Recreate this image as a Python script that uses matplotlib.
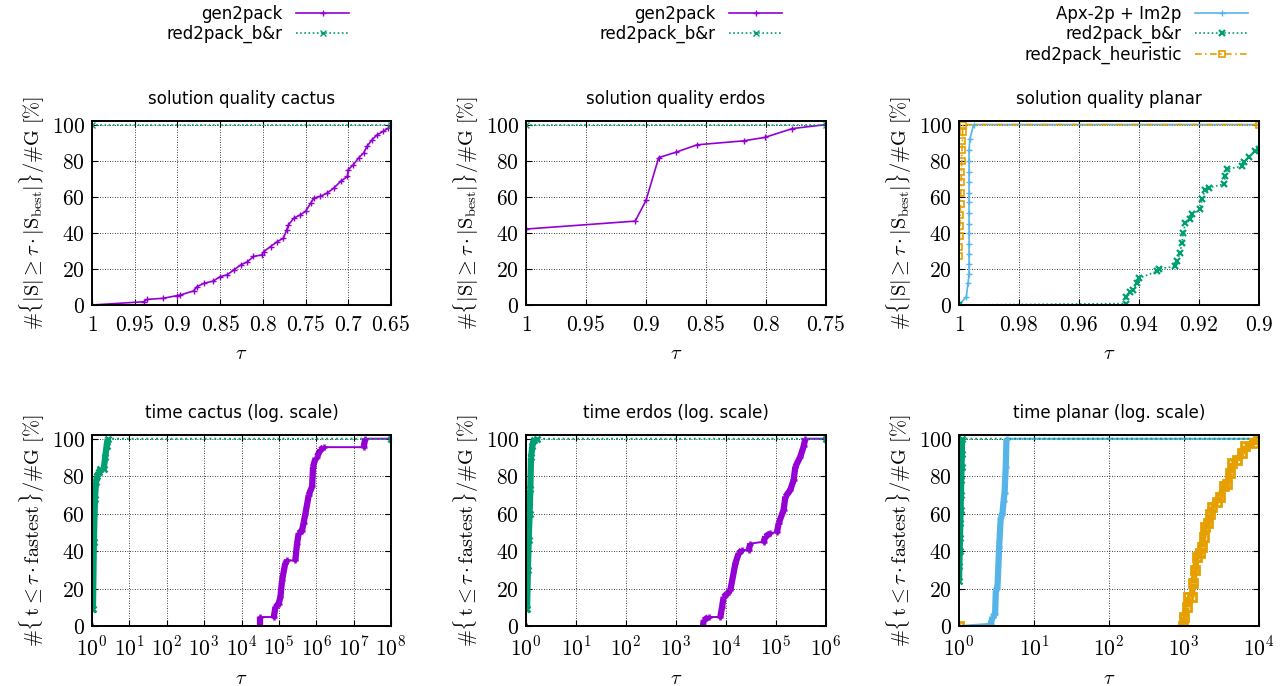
import numpy as np
import matplotlib.pyplot as plt
from matplotlib.ticker import FixedLocator, FuncFormatter, NullLocator

plt.rcParams['mathtext.fontset'] = 'cm'
plt.rcParams['font.family'] = ['DejaVu Sans']

PURPLE = '#9400d3'
GREEN = '#009e73'
BLUE = '#56b4e9'
ORANGE = '#e69f00'

# ---- solution quality: cactus ----
q_cactus_tau = [1, 0.9395, 0.9356, 0.917, 0.9005, 0.897, 0.881, 0.877, 0.869, 0.858, 0.85,
                0.842, 0.834, 0.826, 0.818, 0.811, 0.801, 0.799, 0.791, 0.783, 0.776, 0.772,
                0.770, 0.764, 0.756, 0.750, 0.744, 0.740, 0.733, 0.725, 0.717, 0.709, 0.701,
                0.700, 0.694, 0.688, 0.682, 0.678, 0.672, 0.666, 0.659, 0.653, 0.65]
q_cactus_gen = [0, 1.8, 3.1, 3.7, 5.2, 5.5, 7.8, 10.2, 12, 13.3, 15.7, 16.7, 19.4, 22.2, 24,
                26.9, 27.8, 29.6, 32.4, 35.2, 37, 41.7, 44.4, 48.1, 50, 51.9, 56.5, 59.3,
                60.2, 62, 64.8, 68.5, 71.3, 75, 77.8, 81.5, 84.3, 88, 91.7, 94.4, 96.3,
                98.1, 99.4]
q_cactus_br_tau = [1, 0.65]
q_cactus_br = [100, 100]

# ---- solution quality: erdos ----
q_erdos_tau = [1, 0.909, 0.900, 0.8894, 0.875, 0.8575, 0.8186, 0.801, 0.778, 0.75]
q_erdos_gen = [42.1, 46.5, 58, 81.7, 84.7, 88.8, 91, 92.9, 97.8, 100]
q_erdos_br_tau = [1, 0.75]
q_erdos_br = [100, 100]

# ---- solution quality: planar ----
q_planar_apx_tau = [1, 0.99755, 0.9970, 0.99665, 0.99665, 0.99665, 0.99665, 0.99665, 0.99665,
                    0.99665, 0.99665, 0.99665, 0.99665, 0.99665, 0.99665, 0.99665, 0.9964,
                    0.9951, 0.9]
q_planar_apx = [0, 4.6, 12, 17, 23, 28, 34, 40, 45, 51, 57, 62, 68, 74, 80, 86, 92, 100, 100]
q_planar_br_tau = [1, 0.9444, 0.9444, 0.943, 0.9419, 0.9408, 0.9399, 0.9341, 0.9335, 0.928,
                   0.9274, 0.9263, 0.9257, 0.9252, 0.9246, 0.923, 0.9224, 0.9196, 0.919,
                   0.9179, 0.9168, 0.9118, 0.9112, 0.9107, 0.9057, 0.9051, 0.9034, 0.9012, 0.9]
q_planar_br = [0, 0.8, 4.6, 7.4, 8.4, 12, 14.9, 18.6, 20, 21.4, 24.2, 28.8, 34.4, 40, 45.5,
               47.4, 50.2, 53, 58.6, 64, 65, 67, 71.6, 75.2, 77, 79, 81.8, 85.5, 86.4]
q_planar_heu_tau = [1, 0.9999, 0.9998, 0.9997, 0.9996, 0.9995, 0.9994, 0.9993, 0.9992, 0.9991,
                    0.9990, 0.9989, 0.9988, 0.9987, 0.9]
q_planar_heu = [27, 32, 38, 44, 50, 56, 62, 68, 74, 80, 86, 91, 96, 100, 100]

# ---- time: cactus ----
t_cactus_br_tau = [1.0, 1.06, 1.12, 1.2, 1.28, 1.36, 1.5, 1.67, 2.05, 2.27, 2.45, 2.63, 1e8]
t_cactus_br = [9.3, 9.3, 45, 68, 77, 80, 82, 83.6, 83.6, 90.5, 96, 100, 100]
t_cactus_gen_tau = [1, 3.2e4, 3.2e4, 7.3e4, 8.1e4, 9.9e4, 1.1e5, 1.22e5, 1.48e5, 1.66e5,
                    2.75e5, 3.06e5, 3.39e5, 4.17e5, 4.57e5, 5.13e5, 6.3e5, 7.76e5, 8.2e5,
                    9.55e5, 1.05e6, 1.29e6, 1.58e6, 1.86e7, 2.04e7, 1e8]
t_cactus_gen = [0, 0, 4.8, 4.8, 10, 12, 15.5, 24.5, 33.4, 35, 35, 44, 49.5, 51, 55, 60, 70,
                74.5, 85, 89.6, 90.5, 94, 95.5, 95.5, 100, 100]

# ---- time: erdos ----
t_erdos_br_tau = [1.0, 1.05, 1.09, 1.13, 1.18, 1.22, 1.26, 1.34, 1.42, 1.66, 1e6]
t_erdos_br = [9.3, 9.3, 30, 46, 60, 73, 90, 96, 99.5, 100, 100]
t_erdos_gen_tau = [1, 3470, 3570, 4470, 7710, 8320, 8970, 1.05e4, 1.22e4, 1.54e4, 1.79e4,
                   2.09e4, 2.84e4, 3.07e4, 5.66e4, 6.12e4, 7.71e4, 1.05e5, 1.13e5, 1.42e5,
                   1.54e5, 1.94e5, 2.25e5, 2.44e5, 3.07e5, 3.57e5, 3.86e5, 1e6]
t_erdos_gen = [0, 0, 3, 4.8, 4.8, 10, 15.5, 17.3, 19, 33.4, 38.8, 40.5, 40.5, 44, 45, 47.7,
               49.5, 50.3, 54.8, 62, 69, 72.7, 78, 85, 90.5, 95.9, 100, 100]

# ---- time: planar ----
t_planar_br_tau = [1.0, 1.01, 1.02, 1.03, 1.04, 1.05, 1.06, 1.07, 1.08, 1.09, 1.1, 1e4]
t_planar_br = [24, 32, 40, 47, 55, 62, 70, 78, 85, 92, 100, 100]
t_planar_apx_tau = [1, 2.65, 2.8, 3.03, 3.1, 3.26, 3.43, 3.6, 3.8, 3.93, 4.05, 4.2, 4.3, 1e4]
t_planar_apx = [0, 1.2, 4.8, 6.6, 19, 21, 42, 58, 60, 67, 71, 85, 100, 100]
t_planar_heu_tau = [1, 980, 1000, 1087, 1143, 1259, 1334, 1403, 1479, 1622, 1726, 1820, 1905,
                    2118, 2239, 2344, 2754, 3020, 3365, 3715, 4130, 4345, 5070, 5916, 6561,
                    8511, 9594, 1e4]
t_planar_heu = [0, 0, 4.8, 10, 15.5, 15.5, 22.7, 30, 37, 38.8, 42, 47.7, 53, 54.8, 60, 63.7,
                66.4, 69, 74.5, 76, 81.6, 87, 88.8, 92.3, 95.9, 97.7, 100, 100]

titles_top = ['solution quality cactus', 'solution quality erdos', 'solution quality planar']
titles_bot = ['time cactus (log. scale)', 'time erdos (log. scale)', 'time planar (log. scale)']
ylab_top = r'$\#\{|\mathrm{S}|\geq\tau\cdot|\mathrm{S}_{\mathrm{best}}|\}/\#\mathrm{G}\ [\%]$'
ylab_bot = r'$\#\{\,\mathrm{t}\leq\tau\cdot\mathrm{fastest}\,\}/\#\mathrm{G}\ [\%]$'

W, H = 1283, 686
fig = plt.figure(figsize=(W / 100, H / 100), dpi=100)
lefts = [92, 526, 959]
widths = [299, 300, 300]


def mk_ax(left, top, width, height):
    return fig.add_axes([left / W, 1 - (top + height) / H, width / W, height / H])


def style(ax, title, ylab):
    ax.set_ylim(0, 102)
    ax.yaxis.set_major_locator(FixedLocator([0, 20, 40, 60, 80, 100]))
    ax.yaxis.set_major_formatter(FuncFormatter(lambda v, p: '$%d$' % v))
    ax.grid(True, color='black', linestyle=(0, (1, 2)), linewidth=0.6)
    ax.tick_params(direction='in', top=True, right=True, labelsize=15.5, length=4)
    ax.tick_params(axis='x', pad=7)
    ax.tick_params(axis='y', pad=5)
    ax.xaxis.set_minor_locator(NullLocator())
    for s in ax.spines.values():
        s.set_linewidth(1.4)
    ax.set_title(title, fontsize=12, pad=12)
    ax.set_ylabel(ylab, fontsize=14.6, labelpad=3)
    ax.set_xlabel(r'$\tau$', fontsize=14.6, labelpad=7)


def thick_rises(ax, x, y, color):
    # the dense runs of points in the time plots show up as heavy bands
    lx = np.log10(np.asarray(x, dtype=float))
    y = np.asarray(y, dtype=float)
    for i in range(len(lx) - 1):
        if abs(y[i + 1] - y[i]) > 1 and abs(lx[i + 1] - lx[i]) < 0.2:
            ax.plot(x[i:i + 2], y[i:i + 2], color=color, linewidth=4.5,
                    solid_capstyle='butt', zorder=2.2)


qkw = dict(markersize=5, markeredgewidth=1.0, linewidth=1.2)
tkw = dict(markersize=5, markeredgewidth=1.8, linewidth=1.4)
dot = (0, (1, 1.5))
dashdot = (0, (4, 2, 1, 2))

# top row
axes_top = [mk_ax(l, 121, w, 184) for l, w in zip(lefts, widths)]
ax = axes_top[0]
ax.plot(q_cactus_tau, q_cactus_gen, color=PURPLE, marker='+', **qkw, label='gen2pack')
ax.plot(q_cactus_br_tau, q_cactus_br, color=GREEN, marker='x', linestyle=dot, **qkw,
        label='red2pack_b&r')
ax.set_xlim(1, 0.65)
ax.xaxis.set_major_locator(FixedLocator([1, 0.95, 0.9, 0.85, 0.8, 0.75, 0.7, 0.65]))

ax = axes_top[1]
ax.plot(q_erdos_tau, q_erdos_gen, color=PURPLE, marker='+', **qkw, label='gen2pack')
ax.plot(q_erdos_br_tau, q_erdos_br, color=GREEN, marker='x', linestyle=dot, **qkw,
        label='red2pack_b&r')
ax.set_xlim(1, 0.75)
ax.xaxis.set_major_locator(FixedLocator([1, 0.95, 0.9, 0.85, 0.8, 0.75]))

ax = axes_top[2]
ax.plot(q_planar_apx_tau, q_planar_apx, color=BLUE, marker='+', **qkw, label='Apx-2p + Im2p')
ax.plot(q_planar_br_tau, q_planar_br, color=GREEN, marker='x', linestyle=dot,
        markersize=5, markeredgewidth=1.6, linewidth=1.2, label='red2pack_b&r')
ax.plot(q_planar_heu_tau, q_planar_heu, color=ORANGE, marker='s', markerfacecolor='none',
        linestyle=dashdot, markersize=4, markeredgewidth=1.2, linewidth=1.2,
        label='red2pack_heuristic')
ax.set_xlim(1, 0.9)
ax.xaxis.set_major_locator(FixedLocator([1, 0.98, 0.96, 0.94, 0.92, 0.9]))

for ax, t in zip(axes_top, titles_top):
    ax.xaxis.set_major_formatter(FuncFormatter(lambda v, p: '$%g$' % round(v, 4)))
    style(ax, t, ylab_top)

# bottom row
axes_bot = [mk_ax(l, 435, w, 191) for l, w in zip(lefts, widths)]
ax = axes_bot[0]
ax.plot(t_cactus_gen_tau, t_cactus_gen, color=PURPLE, marker='+', **tkw)
thick_rises(ax, t_cactus_gen_tau, t_cactus_gen, PURPLE)
ax.plot(t_cactus_br_tau, t_cactus_br, color=GREEN, marker='x', linestyle=dot, **tkw)
thick_rises(ax, t_cactus_br_tau, t_cactus_br, GREEN)
ax.set_xscale('log')
ax.set_xlim(1, 1e8)
ax.xaxis.set_major_locator(FixedLocator([10.0 ** k for k in range(0, 9)]))

ax = axes_bot[1]
ax.plot(t_erdos_gen_tau, t_erdos_gen, color=PURPLE, marker='+', **tkw)
thick_rises(ax, t_erdos_gen_tau, t_erdos_gen, PURPLE)
ax.plot(t_erdos_br_tau, t_erdos_br, color=GREEN, marker='x', linestyle=dot, **tkw)
thick_rises(ax, t_erdos_br_tau, t_erdos_br, GREEN)
ax.set_xscale('log')
ax.set_xlim(1, 1e6)
ax.xaxis.set_major_locator(FixedLocator([10.0 ** k for k in range(0, 7)]))

ax = axes_bot[2]
ax.plot(t_planar_apx_tau, t_planar_apx, color=BLUE, marker='+', **tkw)
thick_rises(ax, t_planar_apx_tau, t_planar_apx, BLUE)
ax.plot(t_planar_br_tau, t_planar_br, color=GREEN, marker='x', linestyle=dot, **tkw)
thick_rises(ax, t_planar_br_tau, t_planar_br, GREEN)
ax.plot(t_planar_heu_tau, t_planar_heu, color=ORANGE, marker='s', markerfacecolor='none',
        linestyle=dashdot, markersize=6, markeredgewidth=2, linewidth=1.4)
thick_rises(ax, t_planar_heu_tau, t_planar_heu, ORANGE)
ax.set_xscale('log')
ax.set_xlim(1, 1e4)
ax.xaxis.set_major_locator(FixedLocator([10.0 ** k for k in range(0, 5)]))

for ax, t in zip(axes_bot, titles_bot):
    ax.xaxis.set_major_formatter(FuncFormatter(lambda v, p: '$10^{%d}$' % round(np.log10(v))))
    style(ax, t, ylab_bot)
    ax.xaxis.set_minor_locator(NullLocator())

# legends above each column
anchors = [356, 789, 1255]
for ax, a in zip(axes_top, anchors):
    h, l = ax.get_legend_handles_labels()
    fig.legend(h, l, loc='upper right', bbox_to_anchor=(a / W, 1 + 2 / H), frameon=False,
               markerfirst=False, fontsize=12, handlelength=3.2, numpoints=1,
               labelspacing=0.15, borderaxespad=0, handletextpad=0.8)

fig.savefig('out.png', dpi=100)
